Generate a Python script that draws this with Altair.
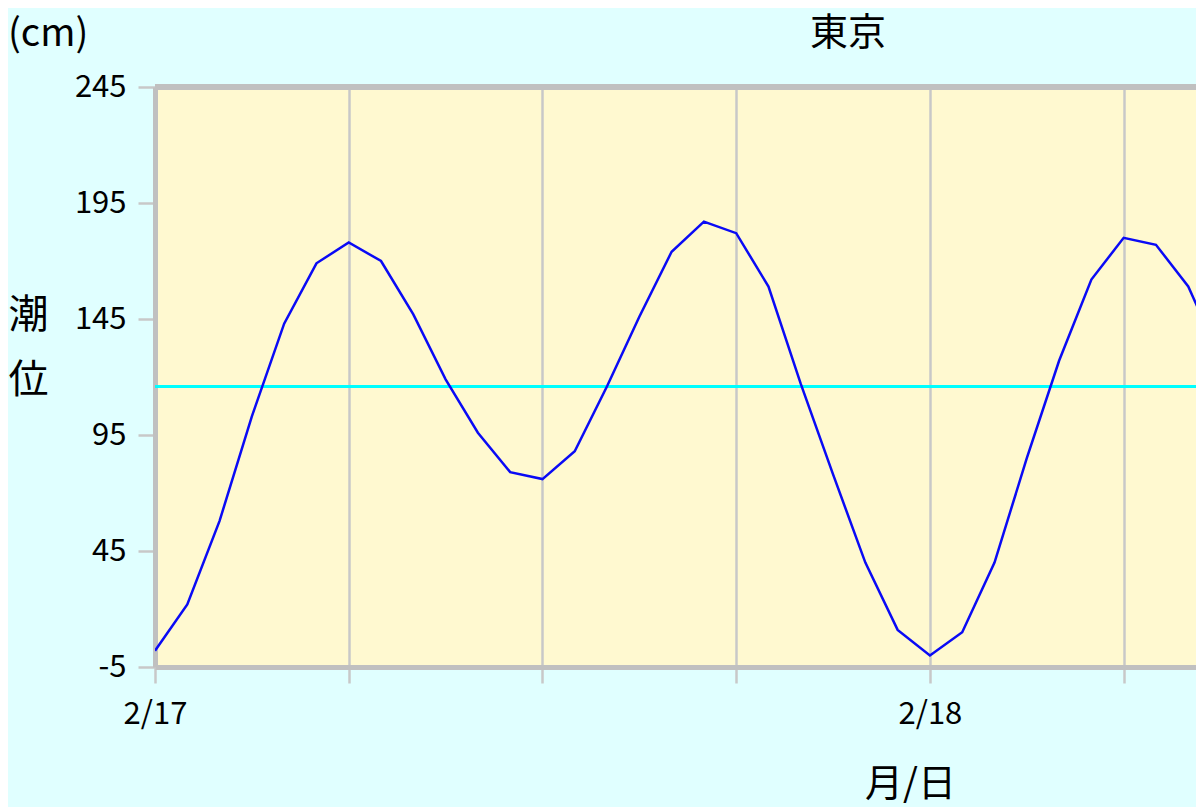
import altair as alt
import pandas as pd

# hourly tide level at Tokyo, from 2/17 00:00
hours = list(range(34))
tide_cm = [2, 22, 58, 103, 143, 169, 178, 170, 147, 119, 96, 79, 76, 88, 116, 146, 174,
           187, 182, 159, 117, 78, 40, 11, 0, 10, 40, 85, 127, 162, 180, 177, 159, 128]
mean_level = 116
y_ticks = [-5, 45, 95, 145, 195, 245]
x_tick_hours = [0, 6, 12, 18, 24, 30]

FONT = "Noto Sans CJK JP"
GRID = "#C8C8C8"
BORDER = "#C0C0C0"

start = pd.Timestamp("2024-02-17")
df = pd.DataFrame({
    "time": [(start + pd.Timedelta(hours=h)).strftime("%Y-%m-%dT%H:%M:%S") for h in hours],
    "level": tide_cm,
})

x_values = [alt.DateTime(year=2024, month=2, date=17 + h // 24, hours=h % 24) for h in x_tick_hours]
# the reference is cut at the right edge of the window, a little after 08:00 on 2/18
x_domain = [alt.DateTime(year=2024, month=2, date=17, hours=0),
            alt.DateTime(year=2024, month=2, date=18, hours=8, minutes=14, seconds=25)]

x_enc = alt.X(
    "time:T",
    scale=alt.Scale(domain=x_domain, nice=False),
    axis=alt.Axis(
        values=x_values,
        labelExpr="hours(datum.value) == 0 ? timeFormat(datum.value, '%-m/%-d') : ''",
        title="月/日",
        titleX=755, titleY=117, titleBaseline="middle", titleAlign="center",
        titleFontSize=38, titleFontWeight="normal", titleFont=FONT,
        labelFont=FONT, labelFontSize=31, labelPadding=16, labelColor="black",
        labelFlush=False, labelOverlap=False,
        tickSize=16, tickColor=GRID, tickWidth=2.5,
        gridColor=GRID, gridWidth=2.5,
        domainColor=BORDER, domainWidth=5,
    ),
)
y_enc = alt.Y(
    "level:Q",
    scale=alt.Scale(domain=[-5, 245], nice=False, zero=False),
    axis=alt.Axis(
        values=y_ticks,
        labelExpr="'' + datum.value",
        title=["潮", "位"], titleAngle=0, titleX=-127, titleY=228,
        titleAlign="center", titleBaseline="middle", titleLineHeight=65,
        titleFontSize=40, titleFontWeight="normal", titleFont=FONT,
        labelFont=FONT, labelFontSize=31, labelPadding=12, labelColor="black",
        labelFlush=False,
        tickSize=17, tickColor=GRID, tickWidth=2.5,
        gridColor=GRID, gridWidth=2.5,
        domainColor=BORDER, domainWidth=5,
    ),
)

base = alt.Chart(df)

line = base.mark_line(color="#0A0AF5", strokeWidth=2.5, clip=True).encode(x=x_enc, y=y_enc)

mean_rule = base.mark_rule(color="#00FFFF", strokeWidth=2).encode(y=alt.datum(mean_level))

top_border = base.mark_rule(color=BORDER, strokeWidth=5).encode(y=alt.datum(245))

unit = alt.Chart(pd.DataFrame({"t": ["(cm)"]})).mark_text(
    align="left", baseline="alphabetic", font=FONT, fontSize=38, color="black"
).encode(text="t:N", x=alt.value(-147), y=alt.value(-41))

title = alt.Chart(pd.DataFrame({"t": ["東京"]})).mark_text(
    align="center", baseline="middle", font=FONT, fontSize=38, color="black"
).encode(text="t:N", x=alt.value(693), y=alt.value(-53))

chart = alt.layer(mean_rule, line, top_border, unit, title).properties(
    width=1041,
    height=580,
    autosize=alt.AutoSizeParams(type="none"),
    padding={"left": 147, "top": 79, "right": 0, "bottom": 140},
    background="#E0FFFF",
).configure_view(fill="#FFF9D0", strokeWidth=0)

chart.save("out.html", embed_options={"renderer": "svg", "actions": False})
